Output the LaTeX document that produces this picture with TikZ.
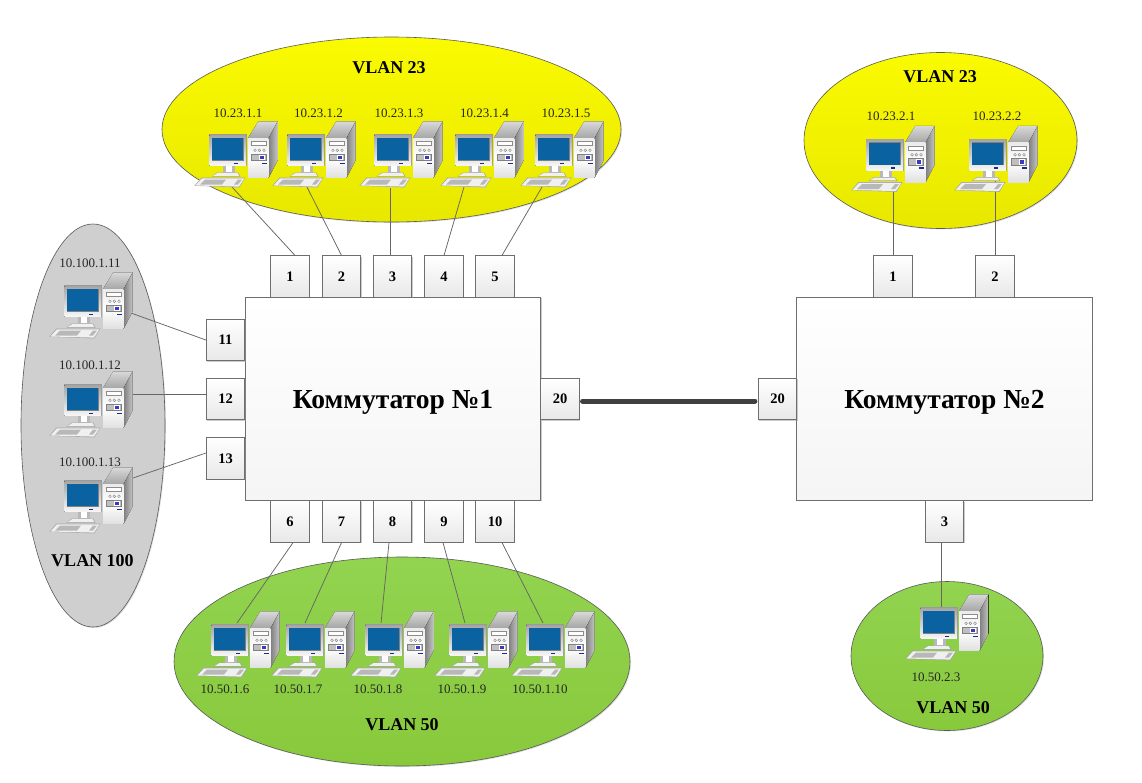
\documentclass[tikz,border=0pt]{standalone}
\usepackage{fontspec}
\setmainfont{Liberation Serif}
\usetikzlibrary{calc,shadows,shapes.geometric}
\definecolor{yel}{HTML}{FAFA00}
\definecolor{yeld}{HTML}{E8E800}
\definecolor{grn}{HTML}{92D350}
\definecolor{grnd}{HTML}{88C93C}
\definecolor{gry}{HTML}{CFCFCF}
\definecolor{edge}{HTML}{6E6E6E}
\definecolor{scr}{HTML}{0A62A0}
\definecolor{navy}{HTML}{1A2A8A}
\newcommand{\pcat}[2]{%
 \begin{scope}[shift={(#1,#2)}]
  % tower
  \fill[towertop] (0,0) -- (10.3,-16.7) -- (29.7,-16.7) -- (20.7,0) -- cycle;
  \fill[towerside] (20.7,0) -- (29.7,-16.7) -- (29.7,22.3) -- (20.7,39.7) -- cycle;
  \fill[towerfront] (0,0) rectangle (20.7,39.7);
  \fill[white,draw=black!45,line width=.3pt] (2.7,3.3) rectangle (18,7.3);
  \foreach \q in {7,11.3,16}{\draw[black!50,line width=.4pt] (\q,12.3) circle (1.4pt);}
  \fill[black!25,draw=black!50,line width=.3pt] (2.7,15.7) rectangle (18,22.3);
  \fill[blue!55!gray,draw=white,line width=.4pt] (11.3,16.7) rectangle (16,21.3);
  \fill[navy] (13.7,24.7) rectangle (18.7,26.3);
  % keyboard
  \fill[black!35] (-53.6,47.8) -- (-46.5,39.5) -- (-2.6,39.5) -- (-8.6,49.4) -- cycle;
  \fill[black!6] (-52.5,47.5) -- (-46,40.3) -- (-3.6,40.3) -- (-9,48.6) -- cycle;
  \fill[black!28] (-48,46.5) -- (-43,41.6) -- (-22,41.6) -- (-26,46.5) -- cycle;
  \fill[black!28] (-14,46.5) -- (-10,41.6) -- (-6,41.6) -- (-10,46.5) -- cycle;
  % stand
  \fill[black!35] (-36.5,38.5) -- (-31,34.5) -- (-10,34.5) -- (-7.5,38.5) -- cycle;
  \fill[black!6] (-35,37.8) -- (-30.5,35) -- (-10.5,35) -- (-8.8,37.8) -- cycle;
  \fill[black!28] (-25,28) rectangle (-13,35);
  \fill[white] (-22,28) rectangle (-16,34);
  % monitor
  \fill[black!40] (-39.2,-3.6) rectangle (-1,28.3);
  \fill[monfr] (-38.6,-2.9) rectangle (-1.8,27.7);
  \fill[black!50] (-36.4,-.4) rectangle (-4.3,22.8);
  \fill[scr] (-35.8,0.2) rectangle (-4.9,22.2);
  \fill[navy] (-14,24.7) rectangle (-9.7,26.3);
 \end{scope}}
\tikzset{
 towertop/.style={top color=black!15,bottom color=black!35},
 towerside/.style={left color=black!50,right color=black!22},
 towerfront/.style={top color=black!8,bottom color=black!12,middle color=white},
 monfr/.style={top color=black!35,bottom color=black!3},
 portbox/.style={draw=edge,line width=.7pt,top color=white,bottom color=black!9,minimum width=38.5pt,minimum height=41.5pt,inner sep=0pt,font=\bfseries\fontsize{14.5}{16}\selectfont,drop shadow={shadow xshift=1.2pt,shadow yshift=-1.2pt,fill=black!40,opacity=.5}},
 swbox/.style={draw=edge,line width=.7pt,top color=white,bottom color=black!4,inner sep=0pt,minimum width=295.5pt,minimum height=203pt,font=\bfseries\fontsize{27.5}{30}\selectfont,drop shadow={shadow xshift=1.2pt,shadow yshift=-1.2pt,fill=black!40,opacity=.5}},
 group/.style={ellipse,draw=black!65,line width=.6pt,inner sep=0pt,drop shadow={shadow xshift=1pt,shadow yshift=-1pt,fill=black!30,opacity=.4}},
 vlan/.style={inner sep=0pt,font=\bfseries\fontsize{18}{20}\selectfont},
 ip/.style={inner sep=0pt,font=\fontsize{13}{15}\selectfont,text=black!85},
 wire/.style={draw=black!60,line width=.75pt},
 trunk/.style={draw=black!75,line width=5pt,line cap=round},
}
\begin{document}
\begin{tikzpicture}[x=1pt,y=-1pt]
\useasboundingbox[fill=white] (0,0) rectangle (1142,782);
% groups
\node[group,top color=yel,bottom color=yeld,minimum width=459pt,minimum height=185pt] (ya) at (391.5,129.5) {};
\node[group,top color=yel,bottom color=yeld,minimum width=273pt,minimum height=176pt] (yb) at (940.5,140.5) {};
\node[group,fill=gry,minimum width=144pt,minimum height=403pt] (ga) at (93,425.5) {};
\node[group,top color=grn,bottom color=grnd,minimum width=456pt,minimum height=209pt] (na) at (402,661.5) {};
\node[group,top color=grn,bottom color=grnd,minimum width=192pt,minimum height=149pt] (nb) at (947,656) {};
% switches
\node[swbox] (s1) at (393,398.5) {\raisebox{-9.5pt}[0pt][0pt]{Коммутатор №1}};
\node[swbox] (s2) at (944.5,398.5) {\raisebox{-9.5pt}[0pt][0pt]{Коммутатор №2}};
% ports
\foreach \n/\x/\t in {p1/290/1,p2/341.5/2,p3/392.5/3,p4/444/4,p5/495/5,q1/893/1,q2/995/2}
  \node[portbox] (\n) at (\x,276.5) {\t};
\foreach \n/\x/\t in {p6/290/6,p7/341.5/7,p8/392.5/8,p9/444/9,p10/495/10,q3/944.5/3}
  \node[portbox] (\n) at (\x,521.5) {\t};
\node[portbox] (p11) at (225.5,340) {11};
\node[portbox] (p12) at (225.5,399) {12};
\node[portbox] (p13) at (225.5,458.5) {13};
\node[portbox] (p20) at (560,399) {20};
\node[portbox] (q20) at (777.5,399) {20};
% pc attachment points
\coordinate (c1) at (232,187);
\coordinate (c2) at (307,187);
\coordinate (c3) at (390,188);
\coordinate (c4) at (464,187);
\coordinate (c5) at (542,187);
\coordinate (c6) at (237,623);
\coordinate (c7) at (305,623);
\coordinate (c8) at (381,623);
\coordinate (c9) at (465,623);
\coordinate (c10) at (543,623);
\coordinate (c11) at (131,313);
\coordinate (c12) at (133,394);
\coordinate (c13) at (133,478);
\coordinate (d1) at (893,190);
\coordinate (d2) at (995,180);
\coordinate (d3) at (941,612);
% connectors
\draw[wire] (c1) -- ($(p1.north)+(5,0)$);
\draw[wire] (c2) -- (p2.north);
\draw[wire] (c3) -- ($(p3.north)+(-2.5,0)$);
\draw[wire] (c4) -- (p4.north);
\draw[wire] (c5) -- ($(p5.north)+(7,0)$);
\draw[wire] (c6) -- ($(p6.south)+(3,0)$);
\draw[wire] (c7) -- (p7.south);
\draw[wire] (c8) -- ($(p8.south)+(-3.5,0)$);
\draw[wire] (c9) -- ($(p9.south)+(-1,0)$);
\draw[wire] (c10) -- ($(p10.south)+(7,0)$);
\draw[wire] (c11) -- (p11.west);
\draw[wire] (c12) -- ($(p12.west)+(0,-5)$);
\draw[wire] (c13) -- ($(p13.west)+(0,-5.5)$);
\draw[wire] (d1) -- (q1.north);
\draw[wire] (d2) -- (q2.north);
\draw[wire] (d3) -- ($(q3.south)+(-3.5,0)$);
\draw[trunk] ($(p20.east)+(3,2)$) -- ($(q20.west)+(-3,2)$);
% computers
\foreach \x in {248,326,413,494,574} \pcat{\x}{138};
\foreach \x in {905,1008} \pcat{\x}{142.5};
\foreach \y in {289,388,484} \pcat{103}{\y};
\foreach \x in {250,325,404,488,565} \pcat{\x}{628};
\pcat{959}{611}
% labels
\foreach \n/\x/\t in {a1/238/10.23.1.1,a2/318.5/10.23.1.2,a3/399/10.23.1.3,a4/484.5/10.23.1.4,a5/566/10.23.1.5}
  \node[ip] (\n) at (\x,113) {\t};
\node[ip] (b1) at (891,116) {10.23.2.1};
\node[ip] (b2) at (997,116) {10.23.2.2};
\node[ip] (e1) at (90,263) {10.100.1.11};
\node[ip] (e2) at (90,365) {10.100.1.12};
\node[ip] (e3) at (90,462) {10.100.1.13};
\foreach \n/\x/\t in {f1/225/10.50.1.6,f2/298/10.50.1.7,f3/378/10.50.1.8,f4/462/10.50.1.9,f5/540/10.50.1.10}
  \node[ip] (\n) at (\x,689) {\t};
\node[ip] (h1) at (936,677) {10.50.2.3};
\node[vlan] (v1) at (389,68) {VLAN 23};
\node[vlan] (v2) at (940,77) {VLAN 23};
\node[vlan] (v3) at (92.5,561) {VLAN 100};
\node[vlan] (v4) at (402,725) {VLAN 50};
\node[vlan] (v5) at (953,708) {VLAN 50};
\end{tikzpicture}
\end{document}
